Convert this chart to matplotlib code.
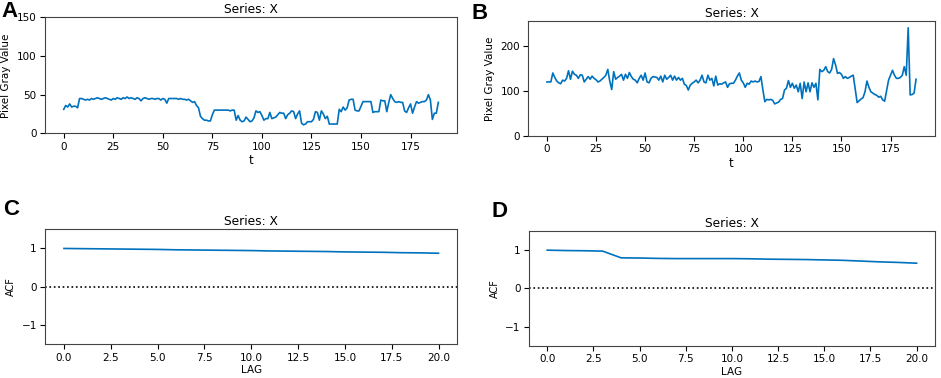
import numpy as np
import matplotlib
matplotlib.use("Agg")
import matplotlib.pyplot as plt

# pixel gray value series
series_a = [31, 36, 34, 38, 34, 35, 35, 33, 45, 45,
            44, 43, 44, 43, 45, 44, 45, 46, 45, 44,
            45, 46, 45, 44, 43, 45, 44, 46, 45, 44,
            46, 45, 47, 45, 46, 45, 44, 46, 45, 42,
            45, 46, 45, 44, 45, 45, 44, 45, 45, 43,
            45, 44, 39, 45, 45, 45, 45, 45, 44, 45,
            44, 44, 43, 44, 42, 40, 41, 36, 33, 22,
            19, 17, 17, 16, 16, 24, 30, 30, 30, 30,
            30, 30, 30, 30, 29, 30, 30, 17, 23, 17,
            15, 16, 21, 18, 15, 16, 20, 29, 27, 28,
            23, 17, 19, 19, 27, 19, 20, 21, 24, 27,
            26, 26, 19, 24, 26, 29, 28, 19, 25, 29,
            13, 11, 12, 15, 15, 15, 18, 28, 27, 17,
            29, 25, 19, 22, 12, 12, 12, 12, 12, 31,
            28, 34, 30, 33, 43, 44, 44, 30, 29, 29,
            35, 41, 41, 41, 41, 41, 27, 28, 28, 28,
            43, 42, 42, 28, 40, 50, 45, 41, 40, 41,
            40, 40, 29, 27, 33, 38, 26, 34, 41, 39,
            40, 41, 41, 43, 50, 43, 18, 26, 26, 40]

series_b = [120, 120, 120, 140, 130, 122, 118, 116, 124, 122,
            128, 145, 126, 144, 137, 135, 128, 136, 135, 120,
            126, 132, 126, 133, 128, 125, 120, 122, 126, 130,
            135, 148, 122, 103, 143, 126, 130, 133, 137, 124,
            137, 128, 141, 132, 126, 124, 118, 128, 135, 124,
            140, 120, 118, 128, 132, 131, 130, 124, 133, 120,
            135, 126, 130, 135, 124, 133, 124, 130, 124, 128,
            115, 112, 102, 113, 117, 120, 124, 118, 124, 135,
            120, 118, 135, 124, 128, 111, 133, 113, 116, 115,
            118, 120, 108, 116, 117, 117, 124, 133, 140, 124,
            118, 108, 117, 115, 122, 120, 122, 120, 121, 132,
            102, 76, 81, 80, 81, 79, 71, 73, 75, 81,
            83, 102, 106, 123, 108, 117, 106, 113, 98, 117,
            83, 120, 98, 118, 98, 118, 108, 117, 80, 148,
            143, 146, 154, 143, 140, 148, 172, 158, 139, 141,
            137, 128, 132, 128, 130, 133, 135, 105, 74, 78,
            82, 85, 98, 122, 108, 98, 95, 92, 90, 86,
            88, 80, 77, 100, 124, 135, 146, 135, 128, 128,
            130, 135, 154, 135, 241, 91, 92, 95, 126]

# autocorrelation, lags 0..20
acf_c = [1.0, 0.995, 0.99, 0.985, 0.98, 0.975, 0.965, 0.96, 0.955, 0.95,
         0.945, 0.935, 0.93, 0.925, 0.92, 0.91, 0.905, 0.9, 0.89, 0.885, 0.875]
acf_d = [1.0, 0.99, 0.985, 0.975, 0.80, 0.795, 0.785, 0.78, 0.78, 0.78,
         0.78, 0.775, 0.765, 0.76, 0.755, 0.745, 0.735, 0.715, 0.695, 0.68, 0.66]

blue = "#0072BD"
fs = 7.5

fig = plt.figure(figsize=(9.41, 3.78), dpi=100)
axA = fig.add_axes([0.0478, 0.6473, 0.4379, 0.3069])
axB = fig.add_axes([0.5616, 0.6410, 0.4315, 0.3034])
axC = fig.add_axes([0.0481, 0.0892, 0.4378, 0.3042])
axD = fig.add_axes([0.5619, 0.0847, 0.4318, 0.3042])

for ax, s in ((axA, series_a), (axB, series_b)):
    ax.plot(np.arange(len(s)), s, color=blue, lw=1.2)
    ax.set_ylabel("Pixel Gray Value", fontsize=fs)
    ax.set_xlabel("t", fontsize=fs + 1, labelpad=2)
    ax.set_xticks(np.arange(0, 176, 25))
axA.set_ylim(0, 150)
axA.set_yticks([0, 50, 100, 150])
axB.set_ylim(0, 256)
axB.set_yticks([0, 100, 200])

for ax, a in ((axC, acf_c), (axD, acf_d)):
    ax.plot(np.arange(len(a)), a, color=blue, lw=1.2)
    ax.axhline(0, color="black", ls=":", lw=1.2)
    ax.set_xlim(-1, 21)
    ax.set_ylim(-1.5, 1.5)
    ax.set_yticks([-1, 0, 1])
    ax.set_xticks(np.arange(0, 20.1, 2.5))
    ax.set_ylabel("ACF", fontsize=fs - 0.5)
    ax.set_xlabel("LAG", fontsize=fs, labelpad=2)

for ax in (axA, axB, axC, axD):
    ax.set_title("Series: X", fontsize=8.8, pad=3)
    ax.tick_params(labelsize=fs, length=3.5, pad=2.5)
    for sp in ax.spines.values():
        sp.set_color("#444444")

lab = dict(fontsize=16, fontweight="bold", family="Liberation Sans", va="top", ha="left")
fig.text(0.002, 0.998, "A", **lab)
fig.text(0.501, 0.993, "B", **lab)
fig.text(0.003, 0.473, "C", **lab)
fig.text(0.522, 0.468, "D", **lab)

fig.savefig("out.png", dpi=100)
